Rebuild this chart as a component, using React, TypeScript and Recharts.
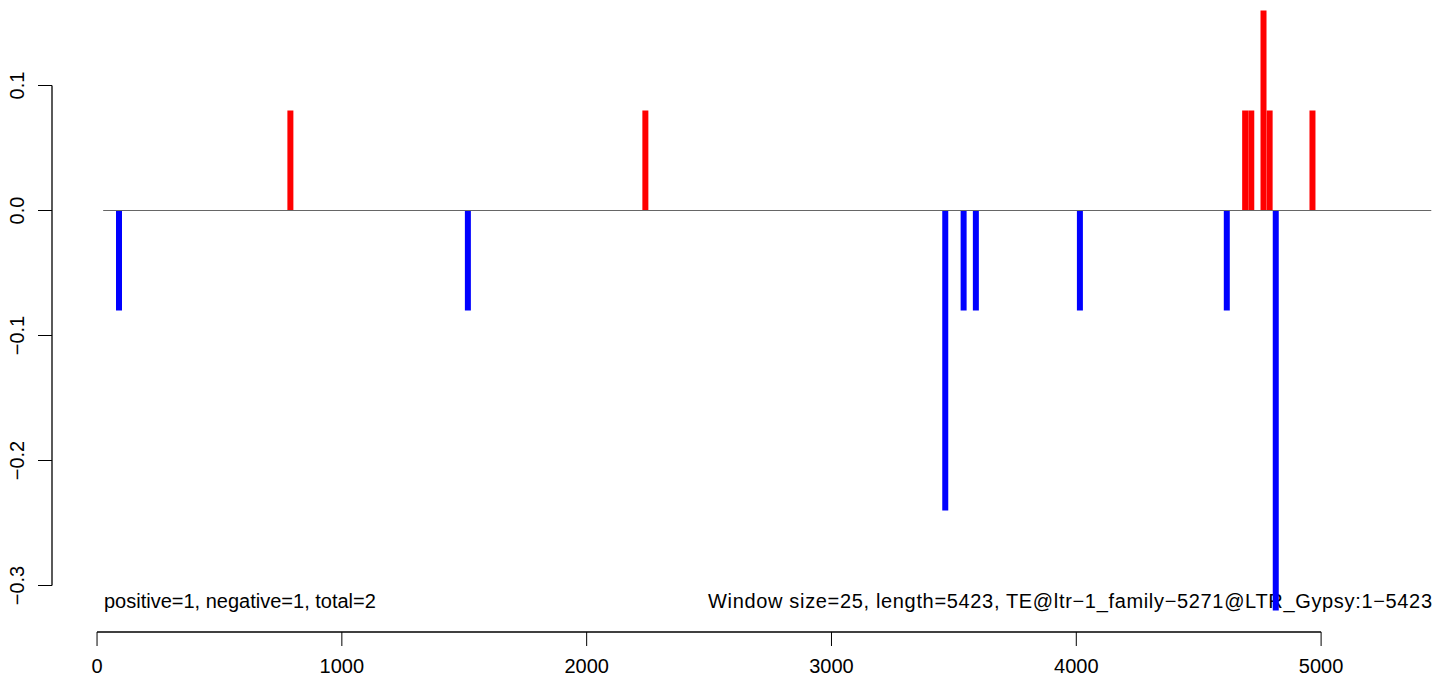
import { BarChart, Bar, Cell, XAxis, YAxis, ReferenceLine } from 'recharts';

// window centres (bp) and signed density per window
const positions = [90, 790, 1515, 2240, 3465, 3540, 3590, 4015, 4615, 4690, 4715, 4765, 4790, 4815, 4965];
const values = [-0.08, 0.08, -0.08, 0.08, -0.24, -0.08, -0.08, -0.08, -0.08, 0.08, 0.08, 0.16, 0.08, -0.32, 0.08];

const xTicks = [0, 1000, 2000, 3000, 4000, 5000];
const yTicks = [0.1, 0.0, -0.1, -0.2, -0.3];
const yTickLabels = ['0.1', '0.0', '\u22120.1', '\u22120.2', '\u22120.3'];

const zeroLineFrom = 25;
const zeroLineTo = 5450;

const leftNote = 'positive=1, negative=1, total=2';
const rightNote = 'Window size=25, length=5423, TE@ltr\u22121_family\u22125271@LTR_Gypsy:1\u22125423';

const X_DOMAIN: [number, number] = [-184, 5502];
const Y_DOMAIN: [number, number] = [-0.3372, 0.1684];

const FONT = '"Liberation Sans", Arial, Helvetica, sans-serif';

const data = positions.map((p, i) => ({ pos: p, value: values[i] }));

function XTick({ x, y, payload }: any) {
  return (
    <text x={x} y={y + 25} textAnchor="middle" fontFamily={FONT} fontSize={20} fill="#000">
      {payload.value}
    </text>
  );
}

function YTick({ x, y, payload }: any) {
  const idx = yTicks.indexOf(payload.value);
  return (
    <text
      transform={`translate(${x - 12},${y}) rotate(-90)`}
      textAnchor="middle"
      fontFamily={FONT}
      fontSize={20}
      fill="#000"
    >
      {idx >= 0 ? yTickLabels[idx] : payload.value}
    </text>
  );
}

export default function App() {
  return (
    <div style={{ position: 'absolute', left: 0, top: 0, background: '#fff' }}>
      <BarChart
        width={1444}
        height={680}
        data={data}
        margin={{ top: 0, right: 0, bottom: 0, left: 0 }}
        barCategoryGap={0}
        barGap={0}
      >
        <XAxis
          type="number"
          dataKey="pos"
          domain={X_DOMAIN}
          allowDataOverflow
          ticks={xTicks}
          interval={0}
          height={48}
          axisLine={false}
          tickLine={{ stroke: '#000' }}
          tickSize={14}
          tick={<XTick />}
        />
        <YAxis
          type="number"
          domain={Y_DOMAIN}
          allowDataOverflow
          ticks={yTicks}
          interval={0}
          width={52}
          axisLine={false}
          tickLine={{ stroke: '#000' }}
          tickSize={14}
          tick={<YTick />}
        />
        <ReferenceLine
          segment={[{ x: zeroLineFrom, y: 0 }, { x: zeroLineTo, y: 0 }]}
          stroke="#666"
          strokeWidth={1.2}
          ifOverflow="visible"
        />
        <ReferenceLine
          segment={[{ x: xTicks[0], y: Y_DOMAIN[0] }, { x: xTicks[xTicks.length - 1], y: Y_DOMAIN[0] }]}
          stroke="#000"
          strokeWidth={1.3}
          ifOverflow="visible"
        />
        <ReferenceLine
          segment={[{ x: X_DOMAIN[0], y: yTicks[yTicks.length - 1] }, { x: X_DOMAIN[0], y: yTicks[0] }]}
          stroke="#000"
          strokeWidth={1.3}
          ifOverflow="visible"
        />
        <Bar dataKey="value" isAnimationActive={false}>
          {data.map((d, i) => (
            <Cell key={i} fill={d.value > 0 ? '#ff0000' : '#0000ff'} />
          ))}
        </Bar>
        <text x={104} y={608} fontFamily={FONT} fontSize={20} fill="#000">
          {leftNote}
        </text>
        <text
          x={1432}
          y={608}
          textAnchor="end"
          textLength={724}
          lengthAdjust="spacing"
          fontFamily={FONT}
          fontSize={20}
          fill="#000"
        >
          {rightNote}
        </text>
      </BarChart>
    </div>
  );
}
